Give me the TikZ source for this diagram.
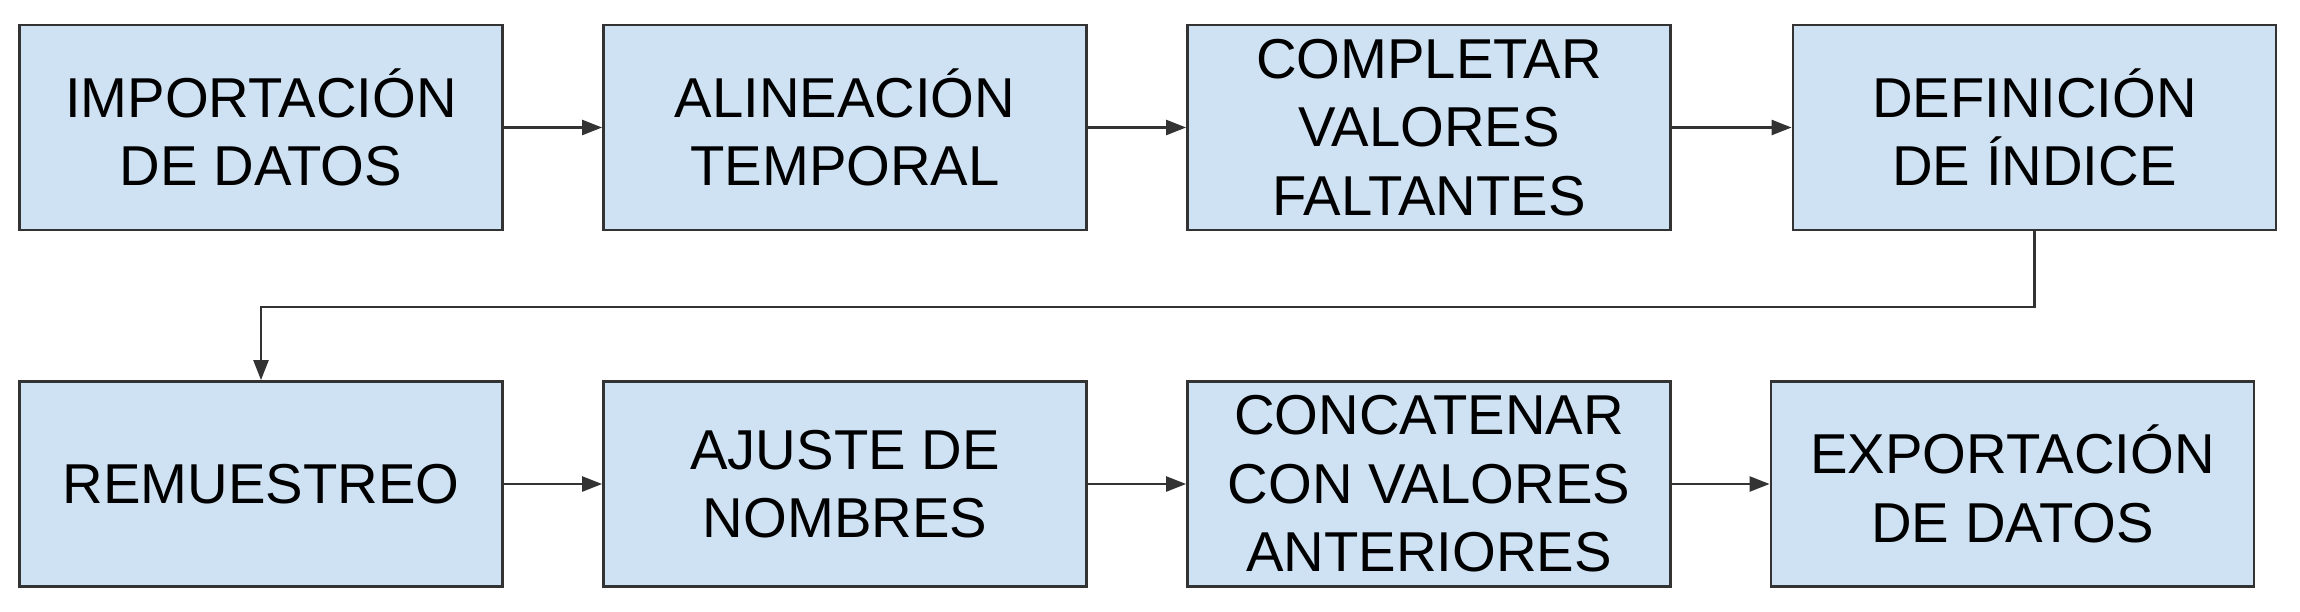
\documentclass[tikz,border=0pt]{standalone}
\usepackage{fontspec}
\setmainfont{Liberation Sans}
\usetikzlibrary{arrows.meta}

\definecolor{boxfill}{HTML}{CFE2F3}
\definecolor{boxline}{HTML}{333333}

\begin{document}
\begin{tikzpicture}[
  paso/.style={draw=boxline,fill=boxfill,line width=0.8pt,minimum width=4.83cm,
    minimum height=2.05cm,inner sep=0pt,align=center,
    font=\fontsize{16}{19.5}\selectfont},
  flecha/.style={draw=boxline,line width=0.7pt,-{Triangle[length=2mm,width=1.5mm]}}]
  \useasboundingbox (0,0) rectangle (23,6.11);
  % primera fila
  \node[paso] (imp) at ( 2.610,4.835) {IMPORTACIÓN\\DE DATOS};
  \node[paso] (ali) at ( 8.450,4.835) {ALINEACIÓN\\TEMPORAL};
  \node[paso] (com) at (14.290,4.835) {COMPLETAR\\VALORES\\FALTANTES};
  \node[paso] (def) at (20.345,4.835) {DEFINICIÓN\\DE ÍNDICE};
  % segunda fila
  \node[paso] (rem) at ( 2.610,1.270) {REMUESTREO};
  \node[paso] (aju) at ( 8.450,1.270) {AJUSTE DE\\NOMBRES};
  \node[paso] (con) at (14.290,1.270) {CONCATENAR\\CON VALORES\\ANTERIORES};
  \node[paso] (exp) at (20.125,1.270) {EXPORTACIÓN\\DE DATOS};
  % flechas
  \draw[flecha] (imp) -- (ali);
  \draw[flecha] (ali) -- (com);
  \draw[flecha] (com) -- (def);
  \draw[flecha] (def.south) -- ++(0,-0.755) -| (rem.north);
  \draw[flecha] (rem) -- (aju);
  \draw[flecha] (aju) -- (con);
  \draw[flecha] (con) -- (exp);
\end{tikzpicture}
\end{document}
